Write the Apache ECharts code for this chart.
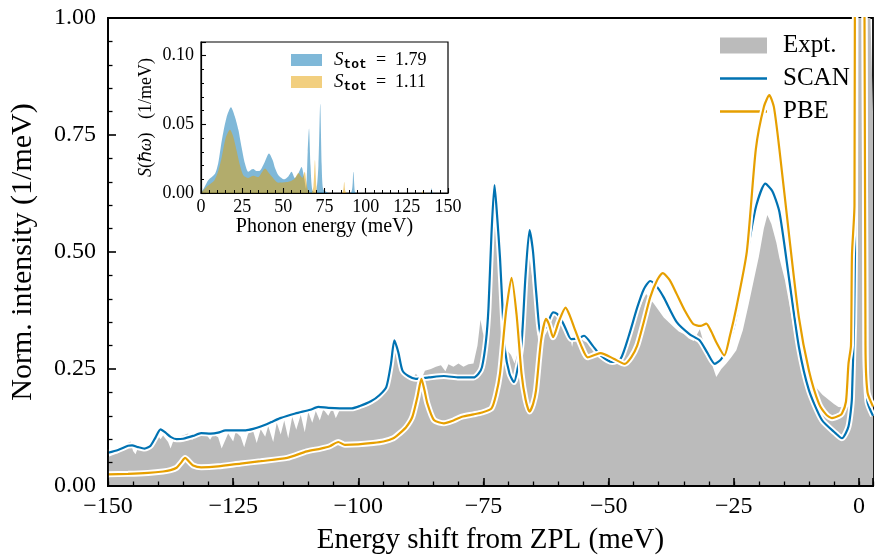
<!DOCTYPE html>
<html>
<head>
<meta charset="utf-8">
<script src="https://cdn.jsdelivr.net/npm/echarts@6/dist/echarts.min.js"></script>
<style>
  html, body { margin: 0; padding: 0; background: #fff; }
  #chart { width: 876px; height: 560px; }
</style>
</head>
<body>
<div id="chart"></div>
<script>
// experimental spectrum [energy shift (meV), intensity]
const expt = [
  [-150, 0.062], [-149, 0.066], [-148, 0.070], [-147, 0.078], [-146, 0.092], [-145.5, 0.095],
  [-145, 0.075], [-144.5, 0.068], [-144, 0.082], [-143, 0.080], [-142, 0.079], [-141, 0.090],
  [-140.3, 0.112], [-139.5, 0.100], [-139, 0.108], [-138, 0.094], [-137.5, 0.080], [-137, 0.095],
  [-136, 0.105], [-135, 0.108], [-134, 0.112], [-133.2, 0.098], [-132.5, 0.112], [-131.5, 0.109],
  [-130.5, 0.112], [-129.6, 0.099], [-129, 0.110], [-128, 0.104], [-127.3, 0.080], [-126.5, 0.100],
  [-126, 0.112], [-125, 0.095], [-124.5, 0.116], [-123.5, 0.105], [-122.8, 0.083], [-122, 0.112],
  [-121, 0.117], [-120.3, 0.092], [-119.5, 0.121], [-118.6, 0.105], [-118, 0.128], [-117, 0.094],
  [-116.3, 0.135], [-115.5, 0.110], [-114.8, 0.140], [-114, 0.102], [-113.2, 0.148], [-112.4, 0.120],
  [-111.5, 0.152], [-110.7, 0.115], [-110, 0.158], [-109.2, 0.135], [-108.5, 0.160], [-107.7, 0.140],
  [-107, 0.164], [-106, 0.150], [-105.2, 0.166], [-104.5, 0.145], [-103.5, 0.168], [-102, 0.165],
  [-101, 0.163], [-100, 0.170], [-99, 0.168], [-98, 0.172], [-97, 0.178], [-96, 0.188],
  [-95, 0.205], [-94, 0.235], [-93.2, 0.285], [-92.7, 0.300], [-92, 0.268], [-91.3, 0.242],
  [-90, 0.238], [-89, 0.232], [-88.5, 0.240], [-87.5, 0.226], [-86.7, 0.246], [-85.5, 0.250],
  [-84.5, 0.255], [-83.5, 0.258], [-82.6, 0.245], [-82, 0.260], [-81, 0.255], [-80, 0.262],
  [-79, 0.255], [-78, 0.260], [-77, 0.262], [-76.2, 0.300], [-75.6, 0.355], [-75, 0.320],
  [-74.3, 0.380], [-73.5, 0.570], [-72.9, 0.650], [-72.3, 0.560], [-71.7, 0.450], [-71, 0.330],
  [-70.3, 0.290], [-69.5, 0.280], [-68.8, 0.262], [-68, 0.290], [-67.2, 0.340], [-66.5, 0.430],
  [-65.8, 0.487], [-65.2, 0.440], [-64.5, 0.360], [-64, 0.300], [-63.3, 0.318], [-62.5, 0.350],
  [-61.5, 0.368], [-60.5, 0.370], [-59.5, 0.350], [-58.7, 0.345], [-57.8, 0.325], [-57.3, 0.297],
  [-56.7, 0.330], [-56, 0.325], [-55, 0.310], [-54, 0.305], [-53, 0.290], [-52, 0.285],
  [-51, 0.278], [-50, 0.272], [-49, 0.268], [-48, 0.275], [-47, 0.300], [-46, 0.325],
  [-45, 0.350], [-44, 0.375], [-43, 0.400], [-42.5, 0.410], [-41.8, 0.400], [-41, 0.390],
  [-40, 0.375], [-39, 0.360], [-38, 0.350], [-37, 0.340], [-36, 0.330], [-35, 0.325],
  [-34, 0.315], [-33, 0.310], [-32.3, 0.325], [-31.8, 0.335], [-31, 0.305], [-30, 0.285],
  [-29.2, 0.255], [-28.5, 0.233], [-27.5, 0.250], [-26.5, 0.262], [-25.5, 0.275], [-24.5, 0.290],
  [-23.2, 0.333], [-22, 0.390], [-21, 0.440], [-20, 0.490], [-19, 0.550], [-18.3, 0.579],
  [-17.5, 0.560], [-16.5, 0.520], [-15.9, 0.487], [-14.8, 0.440], [-13.9, 0.388], [-12.5, 0.300],
  [-11.3, 0.247], [-10, 0.225], [-8.7, 0.212], [-7.3, 0.195], [-6, 0.184], [-5, 0.175],
  [-4.1, 0.169], [-3, 0.168], [-2, 0.170], [-1.5, 0.200], [-1, 0.600], [-0.5, 3],
  [0, 5], [0.5, 3], [1, 1.5], [2.8, 0.8]
];

// SCAN calculation
const scan = [
  [-150, 0.071], [-148, 0.077], [-146, 0.086], [-145.2, 0.087], [-144, 0.083], [-142.7, 0.080],
  [-141.5, 0.086], [-140.5, 0.104], [-139.5, 0.121], [-138.5, 0.114], [-137.5, 0.105], [-136.3, 0.100],
  [-135, 0.101], [-133, 0.107], [-131.4, 0.113], [-129.5, 0.112], [-128, 0.114], [-126.5, 0.119],
  [-124, 0.119], [-122.5, 0.119], [-121, 0.122], [-119.5, 0.127], [-117.5, 0.136], [-115.6, 0.145],
  [-112.6, 0.155], [-109.6, 0.163], [-108, 0.169], [-106, 0.167], [-103.7, 0.166], [-101.3, 0.166],
  [-99.7, 0.171], [-97.5, 0.181], [-95.8, 0.194], [-94.4, 0.212], [-93.5, 0.260], [-92.8, 0.311],
  [-92, 0.285], [-91.2, 0.247], [-90, 0.235], [-88.5, 0.229], [-85.9, 0.232], [-82.9, 0.235],
  [-79.9, 0.232], [-77, 0.232], [-76, 0.240], [-75.3, 0.254], [-74.5, 0.310], [-74, 0.381],
  [-73.4, 0.540], [-72.8, 0.643], [-72.3, 0.580], [-71.7, 0.487], [-71.2, 0.380], [-70.7, 0.290],
  [-69.8, 0.240], [-68.9, 0.222], [-68.2, 0.250], [-67.4, 0.304], [-66.6, 0.450], [-65.8, 0.547],
  [-65.1, 0.500], [-64.5, 0.417], [-63.5, 0.321], [-62.3, 0.345], [-61.1, 0.371], [-60.3, 0.368],
  [-59.5, 0.357], [-58.5, 0.334], [-57.5, 0.314], [-56, 0.316], [-54.9, 0.321], [-53.2, 0.300],
  [-51.6, 0.279], [-49.3, 0.265], [-47.6, 0.272], [-46, 0.320], [-44.3, 0.381], [-43, 0.420],
  [-41.7, 0.438], [-40.3, 0.425], [-39, 0.403], [-36.4, 0.350], [-33.8, 0.324], [-31.8, 0.311],
  [-30.3, 0.285], [-28.8, 0.261], [-27.6, 0.270], [-26.5, 0.290], [-25, 0.340], [-23.9, 0.400],
  [-23.2, 0.438], [-21.9, 0.523], [-20.5, 0.600], [-18.7, 0.646], [-17.3, 0.630], [-15.9, 0.586],
  [-13.9, 0.438], [-12, 0.297], [-10, 0.205], [-7.4, 0.141], [-4.7, 0.113], [-3.4, 0.102],
  [-2.1, 0.127], [-1.4, 0.190], [-0.8, 0.500], [-0.4, 3], [0, 5], [0.6, 3],
  [1.3, 0.300], [1.7, 0.180], [2.8, 0.150]
];

// PBE calculation
const pbe = [
  [-150, 0.025], [-146, 0.026], [-142, 0.028], [-139, 0.031], [-137.5, 0.034], [-136.3, 0.039],
  [-135.4, 0.050], [-134.6, 0.060], [-133.8, 0.052], [-133, 0.044], [-131.4, 0.040], [-128, 0.042],
  [-123.5, 0.048], [-119.5, 0.053], [-114.2, 0.060], [-110.3, 0.074], [-107.5, 0.080], [-105.7, 0.085],
  [-104, 0.094], [-102.7, 0.088], [-100, 0.089], [-97, 0.092], [-95, 0.095], [-93, 0.102],
  [-91.8, 0.112], [-90.5, 0.125], [-89.2, 0.148], [-88.2, 0.190], [-87.4, 0.229], [-86.8, 0.205],
  [-86.2, 0.176], [-84.9, 0.141], [-82.9, 0.134], [-81, 0.140], [-79.3, 0.148], [-77, 0.153],
  [-75.3, 0.157], [-73.4, 0.166], [-72.5, 0.195], [-71.7, 0.240], [-70.9, 0.330], [-70.4, 0.381],
  [-69.4, 0.445], [-68.4, 0.367], [-67.4, 0.240], [-66.6, 0.185], [-65.8, 0.159], [-65.1, 0.175],
  [-64.5, 0.205], [-63.5, 0.311], [-62.5, 0.357], [-61.9, 0.345], [-61.1, 0.318], [-60, 0.350],
  [-58.6, 0.381], [-57.8, 0.365], [-56.9, 0.339], [-55.5, 0.300], [-54.2, 0.275], [-52.8, 0.280],
  [-51.6, 0.284], [-49, 0.272], [-46.8, 0.261], [-45.5, 0.275], [-44.3, 0.300], [-43, 0.350],
  [-41.7, 0.403], [-40.3, 0.440], [-39.2, 0.455], [-37.8, 0.440], [-36.4, 0.410], [-34.8, 0.375],
  [-33.1, 0.346], [-31.7, 0.342], [-30.5, 0.347], [-29.5, 0.330], [-28.5, 0.307], [-26.9, 0.279],
  [-25.8, 0.320], [-24.5, 0.381], [-22.4, 0.501], [-20.6, 0.720], [-19, 0.810], [-17.9, 0.835],
  [-17, 0.810], [-15.9, 0.720], [-13.9, 0.530], [-12, 0.360], [-10, 0.247], [-8, 0.176],
  [-6.5, 0.152], [-5.4, 0.145], [-4, 0.150], [-3.4, 0.155], [-2.6, 0.180], [-2.1, 0.261],
  [-1.6, 0.300], [-1.4, 0.494], [-0.9, 0.600], [-0.5, 3], [0, 5], [0.6, 3],
  [1.3, 0.300], [1.7, 0.200], [2.8, 0.170]
];

// inset: spectral function S(hw) [phonon energy (meV), 1/meV]
const insetScan = [
  [0, 0], [2, 0.004], [4.5, 0.0094], [8.5, 0.014], [10.5, 0.022], [12.6, 0.038], [15.5, 0.055],
  [18.2, 0.0625], [20.5, 0.056], [22.7, 0.046], [24.7, 0.033], [26.7, 0.0215], [28.7, 0.0155],
  [30.5, 0.017], [31.8, 0.0174], [33.5, 0.016], [35.4, 0.016], [38.5, 0.022], [41.3, 0.0287],
  [43.5, 0.024], [45, 0.018], [47, 0.013], [50.6, 0.010], [53, 0.012], [55, 0.0155], [57, 0.011],
  [59, 0.014], [61.1, 0.019], [62.5, 0.012], [63.8, 0.003], [64.8, 0.030], [65.6, 0.047],
  [66.5, 0.020], [67.6, 0.002], [69.6, 0], [71.3, 0.020], [72.4, 0.065], [73.3, 0.020],
  [74.1, 0.003], [76, 0.001], [78, 0], [90.8, 0], [92.5, 0.0155], [93.5, 0.001], [94.5, 0],
  [139, 0], [140, 0.0035], [141, 0], [150, 0]
];
const insetPbe = [
  [0, 0], [3.8, 0.005], [8, 0.009], [10.5, 0.016], [12.6, 0.026], [15, 0.040], [17.6, 0.046],
  [19.6, 0.041], [21.6, 0.031], [23.7, 0.020], [25.7, 0.013], [28.7, 0.011], [31.8, 0.0126],
  [34.8, 0.0116], [36.9, 0.015], [38.9, 0.0179], [41, 0.015], [43, 0.012], [47, 0.0075],
  [52, 0.008], [55, 0.009], [57, 0.0105], [59.1, 0.0145], [61.5, 0.011], [63, 0.0155],
  [64, 0.008], [65, 0.002], [67, 0], [68.3, 0.005], [69.2, 0.024], [70.1, 0.005], [71, 0],
  [85.5, 0], [87, 0.008], [88.5, 0], [134, 0], [135, 0.002], [136, 0], [150, 0]
];
const stotScan = '1.79';
const stotPbe = '1.11';

const FONT = "'Liberation Serif', serif";
const BLUE = '#0072B2';
const ORANGE = '#E69F00';
const GRAY = '#BBBBBB';
const LINE_ICON = 'path://M0,0H48V2.3H0Z';
const SMOOTH = 0.22;

const chart = echarts.init(document.getElementById('chart'));

function fmtX(v) {
  if (Math.abs(v % 25) > 1e-6) return '';
  return v < 0 ? '\u2212' + (-v) : String(v);
}

const option = {
  animation: false,
  backgroundColor: '#fff',
  textStyle: { fontFamily: FONT, color: '#000' },
  grid: [
    { left: 106, top: 18, width: 772, height: 472, show: true, backgroundColor: 'transparent',
      borderColor: '#000', borderWidth: 1.8 },
    { left: 201, top: 42, width: 247, height: 151, show: true, backgroundColor: 'transparent',
      borderColor: '#000', borderWidth: 1.2 }
  ],
  legend: [
    {
      orient: 'vertical', left: 720, top: 33, itemWidth: 47, itemHeight: 16, itemGap: 8,
      padding: 0, symbolKeepAspect: true,
      textStyle: { fontFamily: FONT, fontSize: 25, color: '#000', padding: [0, 0, 0, 11] },
      data: [
        { name: 'Expt.', icon: 'rect' },
        { name: 'SCAN', icon: LINE_ICON },
        { name: 'PBE', icon: LINE_ICON }
      ]
    },
    {
      orient: 'vertical', left: 291, top: 49, itemWidth: 31, itemHeight: 12, itemGap: 0,
      padding: 0, z: 10,
      textStyle: {
        fontFamily: FONT, fontSize: 18, color: '#000', padding: [0, 0, 0, 7], lineHeight: 22,
        rich: {
          i: { fontFamily: FONT, fontSize: 19, fontStyle: 'italic', lineHeight: 22 },
          t: { fontFamily: "'Liberation Mono', monospace", fontSize: 13, fontWeight: 'bold',
               verticalAlign: 'bottom', lineHeight: 12 },
          n: { fontFamily: FONT, fontSize: 18, lineHeight: 22 }
        }
      },
      formatter: function (name) {
        const s = name === 'inScan' ? stotScan : stotPbe;
        return '{i|S}{t|tot}{n|  =  ' + s + '}';
      },
      data: [{ name: 'inScan', icon: 'rect' }, { name: 'inPbe', icon: 'rect' }]
    }
  ],
  xAxis: [
    {
      gridIndex: 0, type: 'value', min: -150, max: 2.8, interval: 25, position: 'bottom', z: 10,
      name: 'Energy shift from ZPL (meV)', nameLocation: 'middle', nameGap: 40,
      nameTextStyle: { fontFamily: FONT, fontSize: 29, color: '#000' },
      axisLine: { show: true, onZero: false, lineStyle: { color: '#000', width: 1.8 } },
      axisTick: { show: true, inside: true, length: 8, lineStyle: { color: '#000', width: 1.6 } },
      axisLabel: { formatter: fmtX, fontFamily: FONT, fontSize: 24, color: '#000', margin: 9 },
      splitLine: { show: false }
    },
    {
      gridIndex: 0, type: 'value', min: -150, max: 2.8, interval: 5, position: 'bottom', z: 10,
      axisLine: { show: false, onZero: false },
      axisTick: { show: true, inside: true, length: 4.5, lineStyle: { color: '#000', width: 1.3 } },
      axisLabel: { show: false },
      splitLine: { show: false }
    },
    {
      gridIndex: 1, type: 'value', min: 0, max: 150, interval: 25, position: 'bottom', z: 10,
      name: 'Phonon energy (meV)', nameLocation: 'middle', nameGap: 22,
      nameTextStyle: { fontFamily: FONT, fontSize: 20, color: '#000' },
      axisLine: { show: true, onZero: false, lineStyle: { color: '#000', width: 1.2 } },
      axisTick: { show: true, inside: true, length: 5, lineStyle: { color: '#000', width: 1.1 } },
      minorTick: { show: true, splitNumber: 5, length: 3, lineStyle: { color: '#000', width: 1 } },
      axisLabel: { fontFamily: FONT, fontSize: 18, color: '#000', margin: 5 },
      splitLine: { show: false }
    }
  ],
  yAxis: [
    {
      gridIndex: 0, type: 'value', min: 0, max: 1, interval: 0.25, position: 'left', z: 10,
      name: 'Norm. intensity (1/meV)', nameLocation: 'middle', nameGap: 70,
      nameTextStyle: { fontFamily: FONT, fontSize: 30, color: '#000' },
      axisLine: { show: true, onZero: false, lineStyle: { color: '#000', width: 1.8 } },
      axisTick: { show: true, inside: true, length: 8, lineStyle: { color: '#000', width: 1.6 } },
      minorTick: { show: true, splitNumber: 5, length: 4.5, lineStyle: { color: '#000', width: 1.3 } },
      axisLabel: { formatter: v => v.toFixed(2), fontFamily: FONT, fontSize: 24, color: '#000', margin: 12 },
      splitLine: { show: false }
    },
    {
      gridIndex: 1, type: 'value', min: 0, max: 0.11, interval: 0.05, position: 'left', z: 10,
      name: '{i|S}(\u210F{i|\u03C9})   (1/meV)', nameLocation: 'middle', nameGap: 46,
      nameTextStyle: {
        fontFamily: FONT, fontSize: 18, color: '#000',
        rich: { i: { fontFamily: FONT, fontSize: 18, fontStyle: 'italic' } }
      },
      axisLine: { show: true, onZero: false, lineStyle: { color: '#000', width: 1.2 } },
      axisTick: { show: true, inside: true, length: 5, lineStyle: { color: '#000', width: 1.1 } },
      axisLabel: {
        formatter: v => (v > 0.1001 ? '' : v.toFixed(2)),
        fontFamily: FONT, fontSize: 18, color: '#000', margin: 7
      },
      splitLine: { show: false }
    },
    {
      gridIndex: 1, type: 'value', min: 0, max: 0.11, interval: 0.01, position: 'left', z: 10,
      axisLine: { show: false, onZero: false },
      axisTick: { show: true, inside: true, length: 3, lineStyle: { color: '#000', width: 1 } },
      axisLabel: { show: false },
      splitLine: { show: false }
    }
  ],
  series: [
    {
      name: 'Expt.', type: 'line', xAxisIndex: 0, yAxisIndex: 0, data: expt,
      symbol: 'none', color: GRAY, lineStyle: { width: 0 },
      areaStyle: { color: GRAY, opacity: 1 }, z: 1
    },
    {
      name: 'scanHalo', type: 'line', xAxisIndex: 0, yAxisIndex: 0, data: scan,
      symbol: 'none', smooth: SMOOTH, lineStyle: { color: '#fff', width: 6 }, z: 2, silent: true
    },
    {
      name: 'SCAN', type: 'line', xAxisIndex: 0, yAxisIndex: 0, data: scan,
      symbol: 'none', smooth: SMOOTH, color: BLUE, lineStyle: { color: BLUE, width: 2.2 }, z: 3
    },
    {
      name: 'pbeHalo', type: 'line', xAxisIndex: 0, yAxisIndex: 0, data: pbe,
      symbol: 'none', smooth: SMOOTH, lineStyle: { color: '#fff', width: 6 }, z: 4, silent: true
    },
    {
      name: 'PBE', type: 'line', xAxisIndex: 0, yAxisIndex: 0, data: pbe,
      symbol: 'none', smooth: SMOOTH, color: ORANGE, lineStyle: { color: ORANGE, width: 2.2 }, z: 5
    },
    {
      name: 'inScan', type: 'line', xAxisIndex: 2, yAxisIndex: 1, data: insetScan,
      symbol: 'none', smooth: 0.25, color: 'rgba(0,114,178,0.5)', lineStyle: { width: 0 },
      areaStyle: { color: 'rgba(0,114,178,0.5)', opacity: 1 }, z: 6
    },
    {
      name: 'inPbe', type: 'line', xAxisIndex: 2, yAxisIndex: 1, data: insetPbe,
      symbol: 'none', smooth: 0.25, color: 'rgba(230,159,0,0.5)', lineStyle: { width: 0 },
      areaStyle: { color: 'rgba(230,159,0,0.5)', opacity: 1 }, z: 7
    }
  ]
};

chart.setOption(option);
</script>
</body>
</html>
